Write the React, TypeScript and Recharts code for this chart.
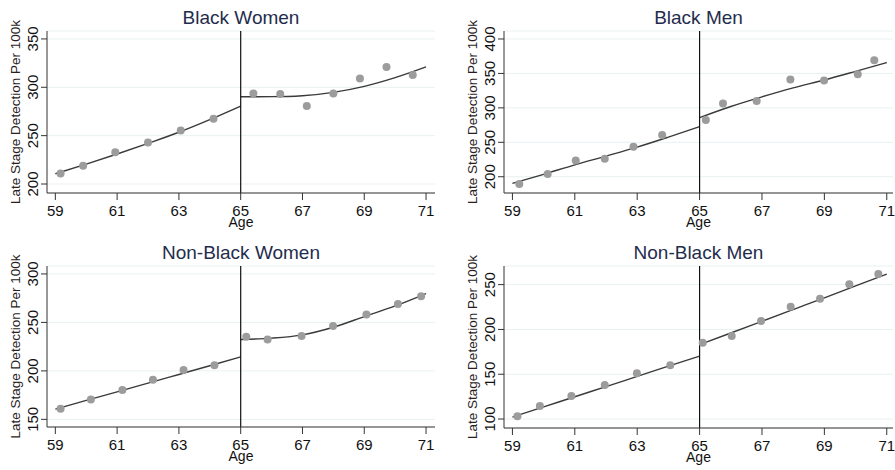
import React from "react";
import {
  ComposedChart,
  Scatter,
  Line,
  XAxis,
  YAxis,
  CartesianGrid,
  ReferenceLine,
} from "recharts";

// binned means (age, late stage detection per 100k)
const bwAge = [59.17, 59.9, 60.94, 62.0, 63.06, 64.12, 65.41, 66.28, 67.14, 68.0, 68.86, 69.72, 70.57];
const bwVal = [210.9, 218.8, 232.9, 242.9, 255.2, 267.6, 293.7, 293.0, 280.6, 293.7, 309.2, 321.1, 312.6];
const bmAge = [59.22, 60.13, 61.03, 61.96, 62.88, 63.8, 65.2, 65.75, 66.83, 67.91, 68.99, 70.07, 70.6];
const bmVal = [189.4, 203.9, 223.6, 226.0, 243.4, 260.7, 282.4, 306.5, 309.9, 341.2, 339.7, 348.9, 369.1];
const nwAge = [59.17, 60.15, 61.17, 62.16, 63.15, 64.15, 65.18, 65.87, 66.97, 67.99, 69.07, 70.09, 70.84];
const nwVal = [160.9, 170.6, 180.2, 190.8, 200.8, 205.9, 235.1, 232.4, 236.1, 246.4, 258.1, 269.1, 277.0];
const nmAge = [59.16, 59.88, 60.89, 61.96, 62.99, 64.06, 65.1, 66.03, 66.97, 67.92, 68.86, 69.8, 70.73];
const nmVal = [103.0, 114.5, 125.7, 138.0, 151.0, 159.9, 185.2, 192.6, 209.4, 225.4, 234.3, 250.3, 261.8];

// fitted lines, either side of the cutoff
const leftAges = [59, 60, 61, 62, 63, 64, 65];
const rightAges = [65, 66, 67, 68, 69, 70, 71];
const bwFitL = [210.6, 220.5, 231, 242, 253.5, 266.5, 280.5];
const bwFitR = [290.2, 290.3, 291.3, 294.8, 301, 310, 321.1];
const bmFitL = [190.3, 203.5, 217.3, 230, 243, 257.5, 272.7];
const bmFitR = [285.8, 302, 316, 329, 340.5, 353, 365.8];
const nwFitL = [160.6, 169.5, 178.4, 187.3, 196.3, 205.3, 214.5];
const nwFitR = [232.4, 233.8, 237.2, 245, 256, 267, 279.8];
const nmFitL = [102.2, 113.5, 124.9, 136.2, 147.6, 159, 170.3];
const nmFitR = [183.0, 196, 209.1, 222.2, 235.3, 248.6, 261.8];

const titles = ["Black Women", "Black Men", "Non-Black Women", "Non-Black Men"];
const yTicks = [
  [200, 250, 300, 350],
  [200, 250, 300, 350, 400],
  [150, 200, 250, 300],
  [100, 150, 200, 250],
];
const xTicks = [59, 61, 63, 65, 67, 69, 71];

const FONT = "Arial, 'Liberation Sans', sans-serif";

const pts = (a: number[], v: number[]) => a.map((x, i) => ({ age: x, val: v[i] }));

const panels = [
  { title: titles[0], pts: pts(bwAge, bwVal), fl: pts(leftAges, bwFitL), fr: pts(rightAges, bwFitR),
    yt: yTicks[0], yd: [190.7, 358.2], xd: [58.73, 71.29], left: 0, top: 0, w: 437, mt: 31, mb: 12 },
  { title: titles[1], pts: pts(bmAge, bmVal), fl: pts(leftAges, bmFitL), fr: pts(rightAges, bmFitR),
    yt: yTicks[1], yd: [176.4, 411.6], xd: [58.73, 71.2], left: 457, top: 0, w: 438, mt: 31, mb: 12 },
  { title: titles[2], pts: pts(nwAge, nwVal), fl: pts(leftAges, nwFitL), fr: pts(rightAges, nwFitR),
    yt: yTicks[2], yd: [142.1, 308.2], xd: [58.73, 71.29], left: 0, top: 235, w: 437, mt: 31, mb: 13 },
  { title: titles[3], pts: pts(nmAge, nmVal), fl: pts(leftAges, nmFitL), fr: pts(rightAges, nmFitR),
    yt: yTicks[3], yd: [90, 270.8], xd: [58.73, 71.2], left: 457, top: 235, w: 438, mt: 31, mb: 12 },
];

const XTick = (p: any) => (
  <text x={p.x} y={p.y + 14} textAnchor="middle" fontSize={15} fill="#111" fontFamily={FONT}>
    {p.payload.value}
  </text>
);

const YTick = (p: any) => (
  <text
    x={p.x - 3}
    y={p.y}
    textAnchor="middle"
    fontSize={15}
    fill="#111"
    fontFamily={FONT}
    transform={`rotate(-90, ${p.x - 3}, ${p.y})`}
  >
    {p.payload.value}
  </text>
);

const Panel = ({ p }: { p: (typeof panels)[number] }) => {
  const H = 235;
  const plotW = p.w - 47 - 2;
  return (
    <div style={{ position: "absolute", left: p.left, top: p.top, width: p.w, height: H }}>
      <div
        style={{
          position: "absolute",
          left: 47,
          width: plotW,
          top: 8,
          textAlign: "center",
          fontFamily: FONT,
          fontSize: 19,
          lineHeight: "19px",
          color: "#1f2d4d",
          whiteSpace: "nowrap",
        }}
      >
        {p.title}
      </div>
      <ComposedChart
        width={p.w}
        height={H}
        margin={{ top: p.mt, right: 2, bottom: p.mb, left: 0 }}
        style={{ position: "absolute", left: 0, top: 0 }}
      >
        <CartesianGrid vertical={false} stroke="#e9f1f2" strokeWidth={1} />
        <XAxis
          type="number"
          dataKey="age"
          domain={p.xd}
          ticks={xTicks}
          allowDataOverflow
          height={30}
          tickSize={7}
          tickMargin={2}
          stroke="#333"
          tick={<XTick />}
          label={{
            content: (lp: any) => {
              const vb = lp.viewBox;
              return (
                <text x={vb.x + vb.width / 2} y={vb.y + 34} textAnchor="middle" fontSize={14} fill="#111" fontFamily={FONT}>
                  Age
                </text>
              );
            },
          }}
        />
        <YAxis
          type="number"
          dataKey="val"
          domain={p.yd}
          ticks={p.yt}
          allowDataOverflow
          width={47}
          tickSize={6}
          tickMargin={0}
          stroke="#333"
          tick={<YTick />}
          label={{
            content: (lp: any) => {
              const vb = lp.viewBox;
              const cx = vb.x + 19.5;
              const cy = vb.y + vb.height / 2;
              return (
                <text
                  x={cx}
                  y={cy}
                  textAnchor="middle"
                  fontSize={13.5}
                  fill="#2a1d1d"
                  fontFamily={FONT}
                  transform={`rotate(-90, ${cx}, ${cy})`}
                >
                  Late Stage Detection Per 100k
                </text>
              );
            },
          }}
        />
        <Scatter data={p.pts} dataKey="val" fill="#9c9c9c" shape={(s: any) => <circle cx={s.cx} cy={s.cy} r={4} fill="#9c9c9c" />} isAnimationActive={false} />
        <Line data={p.fl} dataKey="val" type="monotone" stroke="#3a3a3a" strokeWidth={1.4} dot={false} isAnimationActive={false} />
        <Line data={p.fr} dataKey="val" type="monotone" stroke="#3a3a3a" strokeWidth={1.4} dot={false} isAnimationActive={false} />
        <ReferenceLine x={65} stroke="#111" strokeWidth={1.2} ifOverflow="extendDomain" />
      </ComposedChart>
    </div>
  );
};

export default function App() {
  return (
    <div style={{ position: "absolute", left: 0, top: 0, width: 895, height: 470, background: "#fff" }}>
      {panels.map((p) => (
        <Panel key={p.title} p={p} />
      ))}
    </div>
  );
}
